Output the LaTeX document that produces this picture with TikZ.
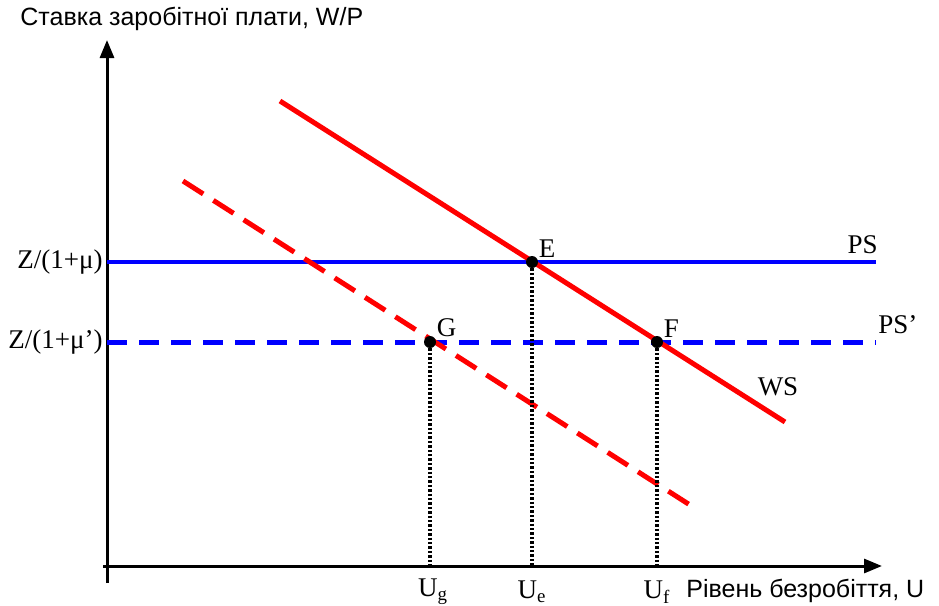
\documentclass[tikz,border=0pt]{standalone}
\usepackage{fontspec}
\setmainfont{Liberation Serif}
\newfontfamily\axisfont{Liberation Sans}
\usepackage{tikz}
\usetikzlibrary{arrows.meta, positioning}

\begin{document}
\begin{tikzpicture}[
  x=0.5pt, y=-0.5pt,
  axis/.style = {-{Triangle[length=9pt, width=7pt]}, line width=1.5pt, black},
  ps/.style = {draw=blue, line width=1.7pt},
  psnew/.style = {draw=blue, line width=2.5pt, dash pattern=on 10pt off 6pt},
  ws/.style = {draw=red, line width=2.5pt},
  wsnew/.style = {draw=red, line width=2.5pt, dash pattern=on 12pt off 6pt},
  guide/.style = {black, line width=1.6pt, dash pattern=on 1.2pt off 1pt},
  pt/.style = {circle, fill=black, inner sep=0pt, minimum size=6pt},
  lbl/.style = {font=\fontsize{13.5}{16}\selectfont, inner sep=1pt},
  axlbl/.style = {font=\axisfont\fontsize{12.5}{15}\selectfont, inner sep=1pt}
]
\useasboundingbox (0,0) rectangle (939,606);

% Axes
\coordinate (o)    at (107,566);
\coordinate (ybot) at (107,583);
\coordinate (ytop) at (107,40);
\coordinate (xlft) at (103,566);
\coordinate (xrgt) at (882,566);
\draw[axis] (ybot) -- (ytop);
\draw[axis] (xlft) -- (xrgt);

\node[axlbl, anchor=west]  (ylab) at (18,19)  {Ставка заробітної плати, W/P};
\node[axlbl, anchor=west]  (xlab) at (684,591) {Рівень безробіття, U};

% PS and PS' lines
\coordinate (ps0)  at (107,262);
\coordinate (ps1)  at (876,262);
\coordinate (psn0) at (107,342);
\coordinate (psn1) at (876,342);
\draw[ps]    (ps0)  -- (ps1);
\draw[psnew] (psn0) -- (psn1);

% WS curves
\coordinate (ws0)  at (280,101);
\coordinate (ws1)  at (785,422);
\coordinate (wsn0) at (183,181);
\coordinate (wsn1) at (690,505);
\draw[ws]    (ws0)  -- (ws1);
\draw[wsnew] (wsn0) -- (wsn1);

% Equilibrium points
\node[pt] (E) at (532,262) {};
\node[pt] (F) at (657,342) {};
\node[pt] (G) at (430,342) {};

\coordinate (ue) at (532,566);
\coordinate (uf) at (657,566);
\coordinate (ug) at (430,566);
\draw[guide] (E) -- (ue);
\draw[guide] (F) -- (uf);
\draw[guide] (G) -- (ug);

% Labels
\node[lbl, above right=-1pt and 0pt of E] (Elab) {E};
\node[lbl, above right=-1pt and 0pt of F] (Flab) {F};
\node[lbl, above right=-1pt and 0pt of G] (Glab) {G};
\node[lbl, anchor=south east] (pslab)  at (880,256) {PS};
\node[lbl, anchor=south west] (psnlab) at (876,336) {PS’};
\node[lbl] (wslab) at (778,387) {WS};
\node[lbl, anchor=east] (zlab)  at (105,262) {Z/(1+μ)};
\node[lbl, anchor=east] (znlab) at (105,342) {Z/(1+μ’)};
\node[lbl] (uglab) at (433,592) {U\textsubscript{g}};
\node[lbl] (uelab) at (532,592) {U\textsubscript{e}};
\node[lbl] (uflab) at (657,592) {U\textsubscript{f}};
\end{tikzpicture}
\end{document}
